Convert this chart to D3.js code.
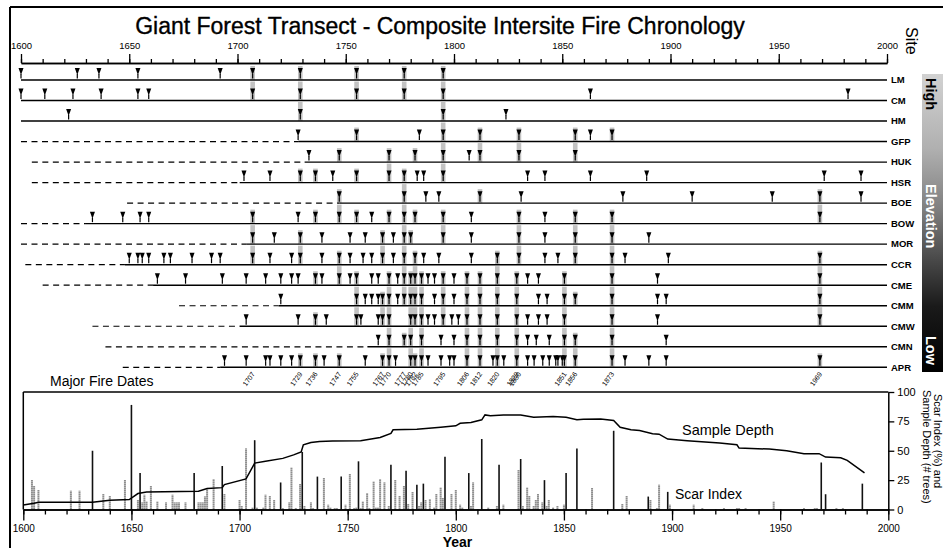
<!DOCTYPE html>
<html><head><meta charset="utf-8">
<script src="https://cdnjs.cloudflare.com/ajax/libs/d3/7.8.5/d3.min.js"></script>
<style>
html,body{margin:0;padding:0;background:#fff;}
svg{display:block;font-family:"Liberation Sans",Arial,sans-serif;}
</style></head>
<body>
<svg id="chart" width="943" height="548"></svg>
<script>
// ---------------- DATA ----------------
const sites = ["LM","CM","HM","GFP","HUK","HSR","BOE","BOW","MOR","CCR","CME","CMM","CMW","CMN","APR"];
const recordStart = [null,null,null,1600,1605,1605,1649,1600,1600,1602,1610,1673,1633,1639,1647]; // dashed part
const solidStart  = [1600,1600,1600,1728,1731,1701,1747,1630,1704,1648,1661,1719,1701,1760,1692];

const fires_LM  = [1600,1626,1636,1654,1692,1707,1729,1755,1777,1795];
const fires_CM  = [1600,1611,1624,1637,1654,1659,1707,1729,1755,1777,1795,1863,1982];
const fires_HM  = [1622,1729,1795,1824];
const fires_GFP = [1728,1755,1784,1795,1812,1830,1856,1863,1873];
const fires_HUK = [1733,1747,1770,1782,1795,1807,1812,1830,1856];
const fires_HSR = [1703,1715,1729,1736,1744,1755,1770,1777,1783,1786,1795,1834,1842,1863,1889,1971,1988];
const fires_BOE = [1747,1777,1787,1793,1812,1831,1878,1910,1947,1969,1988];
const fires_BOW = [1633,1647,1655,1659,1707,1728,1736,1747,1755,1762,1770,1777,1782,1795,1808,1830,1842,1856,1873,1969];
const fires_MOR = [1707,1717,1729,1739,1752,1759,1767,1772,1777,1780,1795,1808,1830,1842,1856,1873,1890];
const fires_CCR = [1650,1654,1656,1659,1666,1669,1679,1688,1692,1707,1715,1725,1729,1739,1747,1752,1758,1762,1767,1772,1777,1782,1786,1793,1808,1820,1830,1842,1848,1856,1873,1879,1899,1969];
const fires_CME = [1663,1676,1693,1704,1713,1720,1725,1728,1736,1739,1747,1752,1755,1762,1765,1770,1774,1777,1780,1782,1785,1788,1791,1795,1800,1806,1812,1820,1829,1834,1839,1851,1873,1894,1969];
const fires_CMM = [1720,1755,1759,1762,1765,1767,1770,1774,1777,1780,1782,1785,1791,1795,1800,1806,1812,1820,1829,1839,1843,1851,1856,1873,1894,1898,1969];
const fires_CMW = [1704,1728,1736,1741,1755,1757,1765,1767,1770,1780,1782,1785,1788,1791,1795,1799,1802,1806,1812,1820,1829,1834,1839,1843,1851,1873,1894,1969];
const fires_CMN = [1765,1770,1777,1780,1785,1794,1800,1806,1812,1820,1829,1834,1838,1844,1851,1856,1873,1898];
const fires_APR = [1694,1704,1713,1715,1720,1725,1729,1736,1740,1747,1759,1767,1770,1773,1780,1782,1785,1788,1794,1798,1800,1806,1812,1818,1820,1823,1829,1834,1837,1841,1844,1847,1848,1850,1851,1856,1873,1879,1890,1898,1969];
const fireYears = [fires_LM,fires_CM,fires_HM,fires_GFP,fires_HUK,fires_HSR,fires_BOE,fires_BOW,fires_MOR,fires_CCR,fires_CME,fires_CMM,fires_CMW,fires_CMN,fires_APR];

const majorFireDates = [1707,1729,1736,1747,1755,1767,1770,1777,1780,1782,1785,1795,1806,1812,1820,1829,1830,1851,1856,1873,1969];

const scarYears  = [1604,1605,1607,1622,1626,1632,1637,1640,1647,1650,1653,1654,1655,1656,1657,1659,1662,1666,1669,1670,1671,1672,1675,1679,1681,1682,1683,1684,1685,1688,1692,1693,1700,1701,1703,1706,1707,1708,1711,1712,1714,1716,1719,1720,1723,1724,1726,1728,1729,1730,1733,1734,1736,1739,1741,1742,1744,1745,1747,1749,1751,1753,1754,1755,1756,1757,1759,1760,1762,1763,1764,1765,1767,1769,1770,1772,1774,1776,1777,1778,1780,1782,1783,1784,1785,1786,1788,1790,1791,1793,1794,1795,1798,1800,1802,1803,1806,1807,1808,1812,1815,1819,1820,1822,1829,1830,1831,1833,1834,1836,1837,1838,1840,1841,1842,1843,1845,1847,1850,1851,1856,1863,1873,1877,1879,1889,1890,1893,1894,1898,1899,1910,1914,1924,1930,1931,1934,1947,1961,1966,1967,1969,1971,1976,1979,1988];
const scarValues = [25,20,17,16,16,50,13,12,25,89,8,31,6,12.5,7,20,7,6,12.5,6,6,6,6,31,6,6,6,11,18,26,37,13,8,3,52,2,59,2,2,12.5,12,8.5,23,1,6,36,1,22,49,3,6,1,28,27,4,2,1,1,28,4,30,1,2,41,1,7,14,1,24,2,2,26,23,3,38,25,12,20,33,5,15,21,3,6,22,8,9,2,13,19,10,45,13,17,4,2,31,3,23,60,2,3,38,4,34,43,3,19,12,3,8.5,13,6,25,3,8,2,3,4,31,52,18,67,5,12,11,8,1,21,15,4,4,1,1,1,1,1,7,1,1,1,40,13,1,1,22];
const darkBarYears = [1632,1650,1654,1679,1692,1707,1719,1729,1736,1747,1755,1770,1777,1782,1785,1795,1806,1812,1820,1830,1841,1851,1856,1873,1889,1898,1969,1971,1988];

const depthYears  = [1600,1605,1607,1632,1640,1649,1653,1657,1681,1685,1692,1693,1703,1707,1712,1720,1725,1728.5,1729.5,1733,1737,1743,1756,1765,1770,1771,1782,1793,1800,1802,1807,1812,1813.5,1816,1822,1830,1836,1845,1851,1856,1859,1867,1873,1876,1881,1885,1891,1894,1898,1907,1922,1930,1931,1945,1953,1961,1968,1971,1978,1981,1989];
const depthValues = [3.8,5.4,6.2,6.2,7.9,8.5,13.6,14.8,15.6,17.8,18.6,21.2,26,39.5,41,43.5,46.5,49,55,57,57.9,58.3,58.6,61.3,64.7,67.8,68.4,70.1,71.2,73.4,74,76.3,80.5,79.7,80.5,80.5,78.5,79.1,78.5,76.3,76.8,77.1,75.7,70,67.8,67.2,64.4,64.1,59.9,58.5,56.5,55.1,52.3,51.4,50,47.5,47.5,44.6,44.1,41.8,31.1];

const topTickYears = d3.range(1600, 2001, 50);
const minorTickYears = d3.range(1600, 2001, 10);
const rightTicks = [0,25,50,75,100];

// ---------------- DRAW ----------------
const svg = d3.select("#chart");

// frame
svg.append("line").attr("x1",10).attr("x2",943).attr("y1",7).attr("y2",7).attr("stroke","#000").attr("stroke-width",2);
svg.append("line").attr("x1",10).attr("x2",10).attr("y1",7).attr("y2",548).attr("stroke","#000").attr("stroke-width",2);

// title
const title = svg.append("text").attr("x",440).attr("y",34).attr("text-anchor","middle")
  .attr("font-size",22).attr("fill","#000").attr("stroke","#000").attr("stroke-width",0.35)
  .text("Giant Forest Transect - Composite Intersite Fire Chronology");
{ const w = title.node().getComputedTextLength(); title.attr("font-size", 22*610/w); }

const x = d3.scaleLinear().domain([1600,2000]).range([21,887]);
const rowY = d3.scalePoint().domain(sites).range([80,367.3]);

// top axis
const topMinor = svg.append("g").attr("transform","translate(0,63)")
  .call(d3.axisTop(x).tickValues(minorTickYears).tickSize(4).tickSizeOuter(0).tickFormat(""));
const topMajor = svg.append("g").attr("transform","translate(0,63)")
  .call(d3.axisTop(x).tickValues(topTickYears).tickSize(9).tickSizeOuter(0).tickFormat(d3.format("d")).tickPadding(5));
[topMinor, topMajor].forEach(g=>{
  g.select(".domain").attr("stroke","#000").attr("stroke-width",1.3);
  g.selectAll(".tick line").attr("stroke","#000").attr("stroke-width",1.3);
  g.selectAll(".tick text").attr("font-size",9.5).attr("font-family","Liberation Sans, Arial").attr("fill","#000");
});

// shading behind major-fire triangles
const shadeG = svg.append("g");
sites.forEach((s,i)=>{
  const y0 = rowY(s);
  fireYears[i].forEach(yr=>{
    if (!majorFireDates.includes(yr)) return;
    const prevHas = i>0 && fireYears[i-1].includes(yr);
    const top = prevHas ? rowY(sites[i-1]) + 1.5 : y0 - 14;
    shadeG.append("rect").attr("x", x(yr)-2.3).attr("width",4.6)
      .attr("y", top).attr("height", y0 - top).attr("fill","#c2c2c2");
  });
});

// row lines
const rowG = svg.append("g");
sites.forEach((s,i)=>{
  const y0 = rowY(s);
  if (recordStart[i] !== null) {
    rowG.append("line").attr("x1",x(recordStart[i])).attr("x2",x(solidStart[i]))
      .attr("y1",y0).attr("y2",y0).attr("stroke","#000").attr("stroke-width",1.2)
      .attr("stroke-dasharray","6,4.5");
  }
  rowG.append("line").attr("x1",x(solidStart[i])).attr("x2",x(2000))
    .attr("y1",y0).attr("y2",y0).attr("stroke","#000").attr("stroke-width",1.4);
  svg.append("text").attr("x",891).attr("y",y0).attr("dy","0.35em")
    .attr("font-size",9.5).attr("font-weight","bold").attr("fill","#000").text(s);
});

// fire scar triangles
const triG = svg.append("g");
sites.forEach((s,i)=>{
  const y0 = rowY(s);
  fireYears[i].forEach(yr=>{
    const cx = x(yr);
    triG.append("path")
      .attr("d", `M${cx-2.5},${y0-12}L${cx+2.5},${y0-12}L${cx},${y0-5}Z`).attr("fill","#000");
    triG.append("line").attr("x1",cx).attr("x2",cx).attr("y1",y0-6).attr("y2",y0-1.5)
      .attr("stroke","#000").attr("stroke-width",1.2);
  });
});

// "Site" label
svg.append("text").attr("transform","translate(905.5,27) rotate(90)")
  .attr("font-size",16).attr("fill","#000").text("Site");

// elevation bar
const defs = svg.append("defs");
const grad = defs.append("linearGradient").attr("id","elev").attr("x1",0).attr("x2",0).attr("y1",0).attr("y2",1);
[[0,"#d2d2d2"],[0.25,"#b0b0b0"],[0.45,"#808080"],[0.62,"#4a4a4a"],[0.78,"#1a1a1a"],[1,"#000"]]
  .forEach(([o,c])=>grad.append("stop").attr("offset",o).attr("stop-color",c));
svg.append("rect").attr("x",922).attr("y",74).attr("width",21).attr("height",298).attr("fill","url(#elev)");
svg.append("text").attr("transform","translate(926,78) rotate(90)").attr("font-size",14.5)
  .attr("font-weight","bold").attr("fill","#000").text("High");
svg.append("text").attr("transform","translate(926,184) rotate(90)").attr("font-size",14.5)
  .attr("font-weight","bold").attr("fill","#fff").text("Elevation");
svg.append("text").attr("transform","translate(926,336) rotate(90)").attr("font-size",14.5)
  .attr("font-weight","bold").attr("fill","#fff").text("Low");

// Major fire dates
svg.append("text").attr("x",50).attr("y",386).attr("font-size",14).attr("fill","#000").text("Major Fire Dates");
svg.append("g").selectAll("text").data(majorFireDates).join("text")
  .attr("transform", d=>`translate(${x(d)+2.5},374) rotate(-55)`)
  .attr("text-anchor","end").attr("font-size",7).attr("fill","#000").text(d=>d);

// ---------------- bottom panel ----------------
const x2 = d3.scaleLinear().domain([1600,2000]).range([23.3,888.3]);
const y2 = d3.scaleLinear().domain([0,100]).range([509.5,392]);

svg.append("line").attr("x1",x2(1600)).attr("x2",x2(2000)).attr("y1",y2(100)).attr("y2",y2(100)).attr("stroke","#000").attr("stroke-width",1.5);
svg.append("line").attr("x1",x2(1600)).attr("x2",x2(1600)).attr("y1",y2(100)).attr("y2",y2(0)).attr("stroke","#000").attr("stroke-width",1.5);

// scar index bars
svg.append("g").selectAll("line").data(scarYears.map((yr,i)=>({yr,v:scarValues[i]}))).join("line")
  .attr("x1",d=>x2(d.yr)).attr("x2",d=>x2(d.yr))
  .attr("y1",y2(0)).attr("y2",d=>y2(d.v))
  .attr("stroke",d=>darkBarYears.includes(d.yr)?"#111":"#6a6a6a")
  .attr("stroke-width",d=>darkBarYears.includes(d.yr)?1.6:2)
  .attr("stroke-dasharray",d=>darkBarYears.includes(d.yr)?null:"1.2,0.8");

// sample depth
svg.append("path").datum(depthYears.map((yr,i)=>[yr,depthValues[i]]))
  .attr("d", d3.line().x(d=>x2(d[0])).y(d=>y2(d[1])))
  .attr("fill","none").attr("stroke","#000").attr("stroke-width",1.5);

// bottom axis
const botMinor = svg.append("g").attr("transform",`translate(0,${y2(0)})`)
  .call(d3.axisBottom(x2).tickValues(minorTickYears).tickSize(5).tickSizeOuter(0).tickFormat(""));
const botMajor = svg.append("g").attr("transform",`translate(0,${y2(0)})`)
  .call(d3.axisBottom(x2).tickValues(topTickYears).tickSize(11).tickSizeOuter(0).tickFormat(d3.format("d")).tickPadding(4));
const rightAx = svg.append("g").attr("transform",`translate(${x2(2000)},0)`)
  .call(d3.axisRight(y2).tickValues(rightTicks).tickSize(6).tickSizeOuter(0).tickPadding(3));
[botMinor, botMajor, rightAx].forEach(g=>{
  g.select(".domain").attr("stroke","#000").attr("stroke-width",1.5);
  g.selectAll(".tick line").attr("stroke","#000").attr("stroke-width",1.3);
  g.selectAll(".tick text").attr("font-size",10).attr("font-family","Liberation Sans, Arial").attr("fill","#000");
});
rightAx.selectAll(".tick text").attr("font-size",11);

svg.append("text").attr("x",457.5).attr("y",546.5).attr("text-anchor","middle")
  .attr("font-size",14).attr("font-weight","bold").attr("fill","#000").text("Year");
svg.append("text").attr("x",682).attr("y",434.5).attr("font-size",14.5).attr("fill","#000").text("Sample Depth");
svg.append("text").attr("x",675).attr("y",498.5).attr("font-size",14).attr("fill","#000").text("Scar Index");

svg.append("text").attr("transform","translate(933.5,394) rotate(90)").attr("font-size",11).attr("fill","#000").text("Scar Index (%) and");
svg.append("text").attr("transform","translate(922.5,390) rotate(90)").attr("font-size",11).attr("fill","#000").text("Sample Depth (# trees)");
</script>
</body></html>
